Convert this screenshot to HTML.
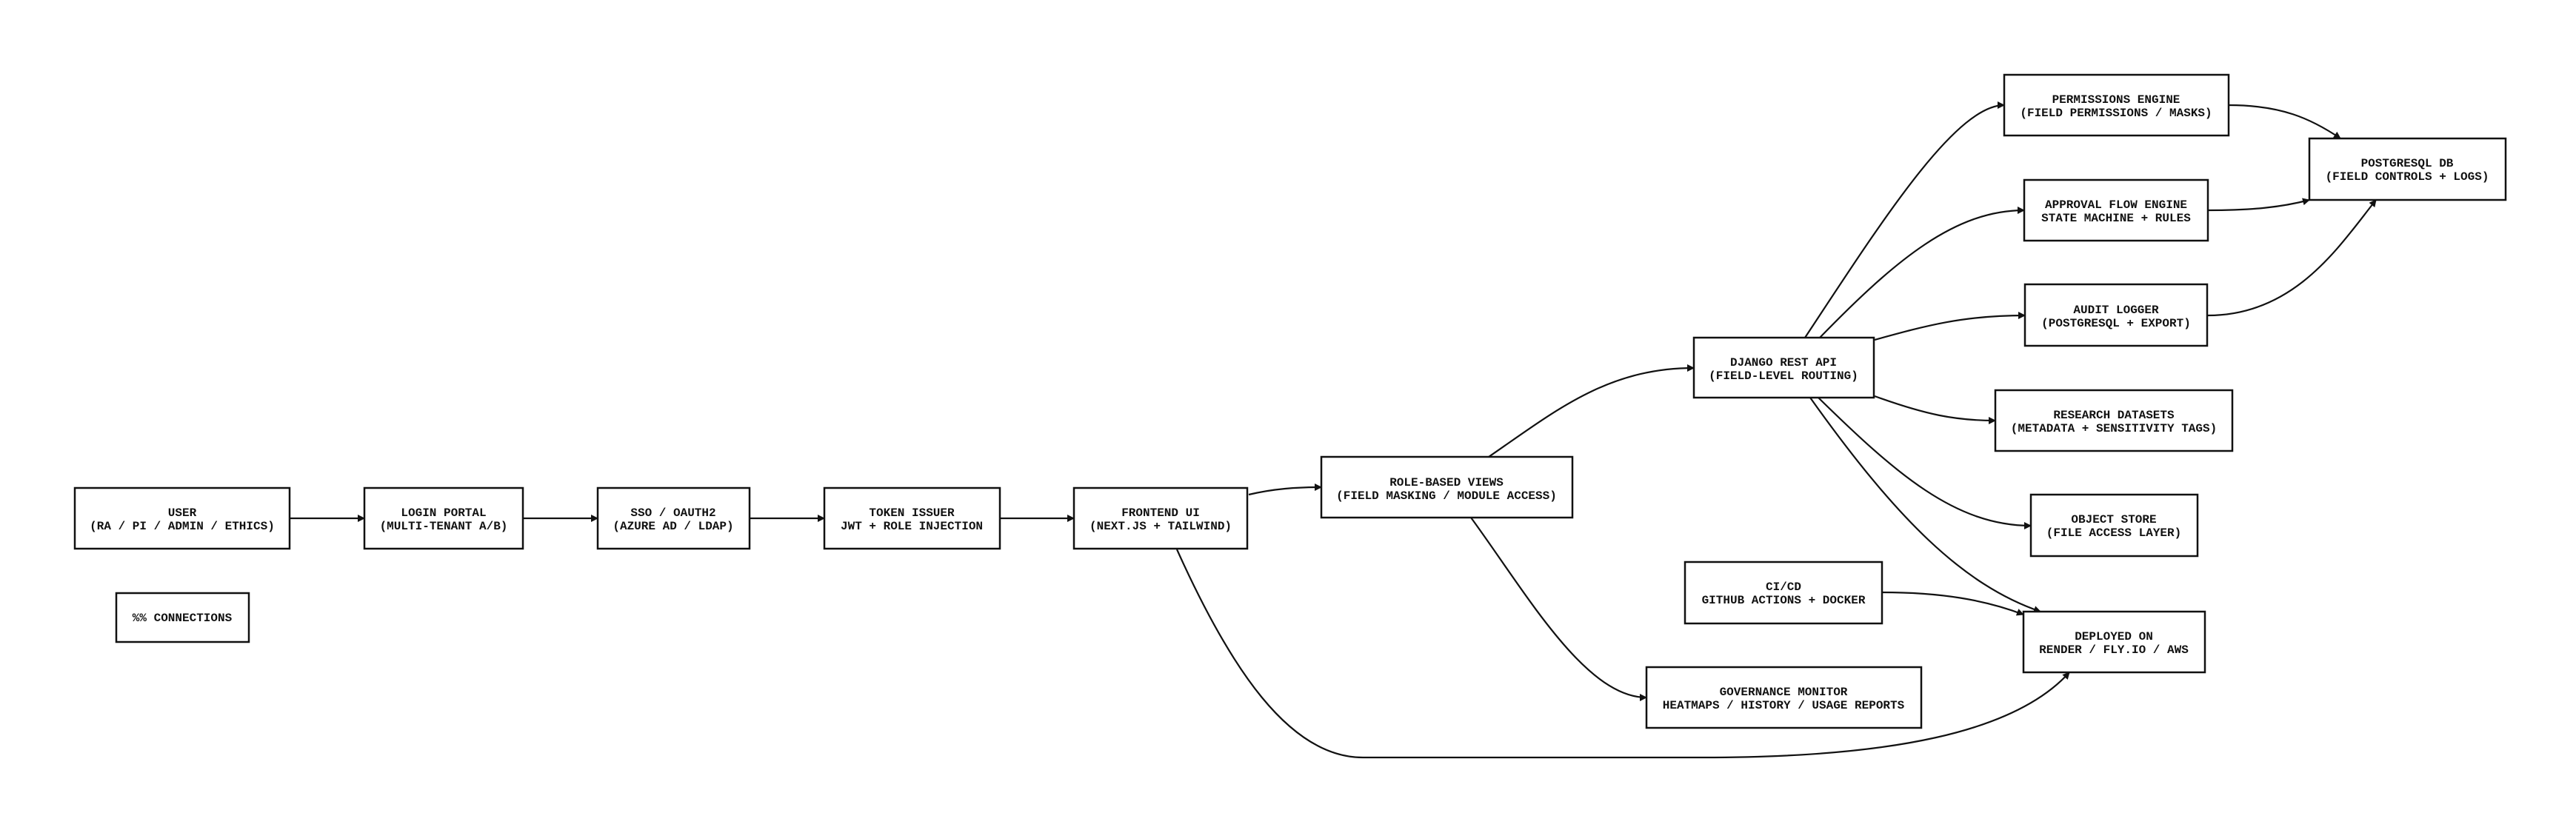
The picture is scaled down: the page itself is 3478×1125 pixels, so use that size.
<!DOCTYPE html>
<html><head><meta charset="utf-8"><style>
html,body{margin:0;padding:0;background:#fff;}
svg{display:block;}
text{font-family:"Liberation Mono",monospace;font-weight:bold;font-size:16px;fill:#111;}
</style></head><body>
<svg width="3478" height="1125" viewBox="0 0 3478 1125" xmlns="http://www.w3.org/2000/svg">
<defs><marker id="a" markerWidth="10" markerHeight="10" refX="9" refY="5" orient="auto" markerUnits="userSpaceOnUse"><path d="M0,0 L10,5 L0,10 z" fill="#111"/></marker></defs>
<g fill="none" stroke="#111" stroke-width="2.2" marker-end="url(#a)">
<path d="M391,700 L492,700"/>
<path d="M706,700 L807,700"/>
<path d="M1012,700 L1113,700"/>
<path d="M1350,700 L1450,700"/>
<path d="M1686,668 C1720,660 1750,658 1784,658"/>
<path d="M2010,617 C2100,555 2170,497 2287,497"/>
<path d="M1986,699 C2060,800 2140,942 2223,942"/>
<path d="M1589,742 C1660,900 1740,1023 1840,1023 L2300,1023 C2550,1023 2720,990 2794,908"/>
<path d="M2437,456 C2540,300 2640,142 2706,142"/>
<path d="M2457,456 C2560,350 2640,284 2733,284"/>
<path d="M2531,459 C2600,440 2650,426 2734,426"/>
<path d="M2531,535 C2600,560 2640,568 2694,568"/>
<path d="M2455,537 C2560,640 2640,710 2742,710"/>
<path d="M2444,537 C2560,700 2650,790 2755,826"/>
<path d="M2541,800 C2620,800 2680,810 2732,830"/>
<path d="M3009,142 C3080,142 3120,160 3160,187"/>
<path d="M2981,284 C3040,284 3080,280 3118,270"/>
<path d="M2981,426 C3100,426 3160,330 3208,270"/>
</g>
<g fill="#fff" stroke="#111" stroke-width="2.5">
<rect x="101" y="659" width="290" height="82"/>
<rect x="492" y="659" width="214" height="82"/>
<rect x="807" y="659" width="205" height="82"/>
<rect x="1113" y="659" width="237" height="82"/>
<rect x="1450" y="659" width="234" height="82"/>
<rect x="157" y="801" width="179" height="66"/>
<rect x="1784" y="617" width="339" height="82"/>
<rect x="2287" y="456" width="243" height="81"/>
<rect x="2706" y="101" width="303" height="82"/>
<rect x="2733" y="243" width="248" height="82"/>
<rect x="2734" y="384" width="246" height="83"/>
<rect x="3118" y="187" width="265" height="83"/>
<rect x="2694" y="527" width="320" height="82"/>
<rect x="2742" y="668" width="225" height="83"/>
<rect x="2275" y="759" width="266" height="83"/>
<rect x="2732" y="826" width="245" height="82"/>
<rect x="2223" y="901" width="371" height="82"/>
</g>
<g text-anchor="middle">
<text x="246" y="697">USER</text><text x="246" y="715">(RA / PI / ADMIN / ETHICS)</text>
<text x="599" y="697">LOGIN PORTAL</text><text x="599" y="715">(MULTI-TENANT A/B)</text>
<text x="909" y="697">SSO / OAUTH2</text><text x="909" y="715">(AZURE AD / LDAP)</text>
<text x="1231" y="697">TOKEN ISSUER</text><text x="1231" y="715">JWT + ROLE INJECTION</text>
<text x="1567" y="697">FRONTEND UI</text><text x="1567" y="715">(NEXT.JS + TAILWIND)</text>
<text x="246" y="839">%% CONNECTIONS</text>
<text x="1953" y="656">ROLE-BASED VIEWS</text><text x="1953" y="674">(FIELD MASKING / MODULE ACCESS)</text>
<text x="2408" y="494">DJANGO REST API</text><text x="2408" y="512">(FIELD-LEVEL ROUTING)</text>
<text x="2857" y="139">PERMISSIONS ENGINE</text><text x="2857" y="157">(FIELD PERMISSIONS / MASKS)</text>
<text x="2857" y="281">APPROVAL FLOW ENGINE</text><text x="2857" y="299">STATE MACHINE + RULES</text>
<text x="2857" y="423">AUDIT LOGGER</text><text x="2857" y="441">(POSTGRESQL + EXPORT)</text>
<text x="3250" y="225">POSTGRESQL DB</text><text x="3250" y="243">(FIELD CONTROLS + LOGS)</text>
<text x="2854" y="565">RESEARCH DATASETS</text><text x="2854" y="583">(METADATA + SENSITIVITY TAGS)</text>
<text x="2854" y="706">OBJECT STORE</text><text x="2854" y="724">(FILE ACCESS LAYER)</text>
<text x="2408" y="797">CI/CD</text><text x="2408" y="815">GITHUB ACTIONS + DOCKER</text>
<text x="2854" y="864">DEPLOYED ON</text><text x="2854" y="882">RENDER / FLY.IO / AWS</text>
<text x="2408" y="939">GOVERNANCE MONITOR</text><text x="2408" y="957">HEATMAPS / HISTORY / USAGE REPORTS</text>
</g>
</svg>
</body></html>
